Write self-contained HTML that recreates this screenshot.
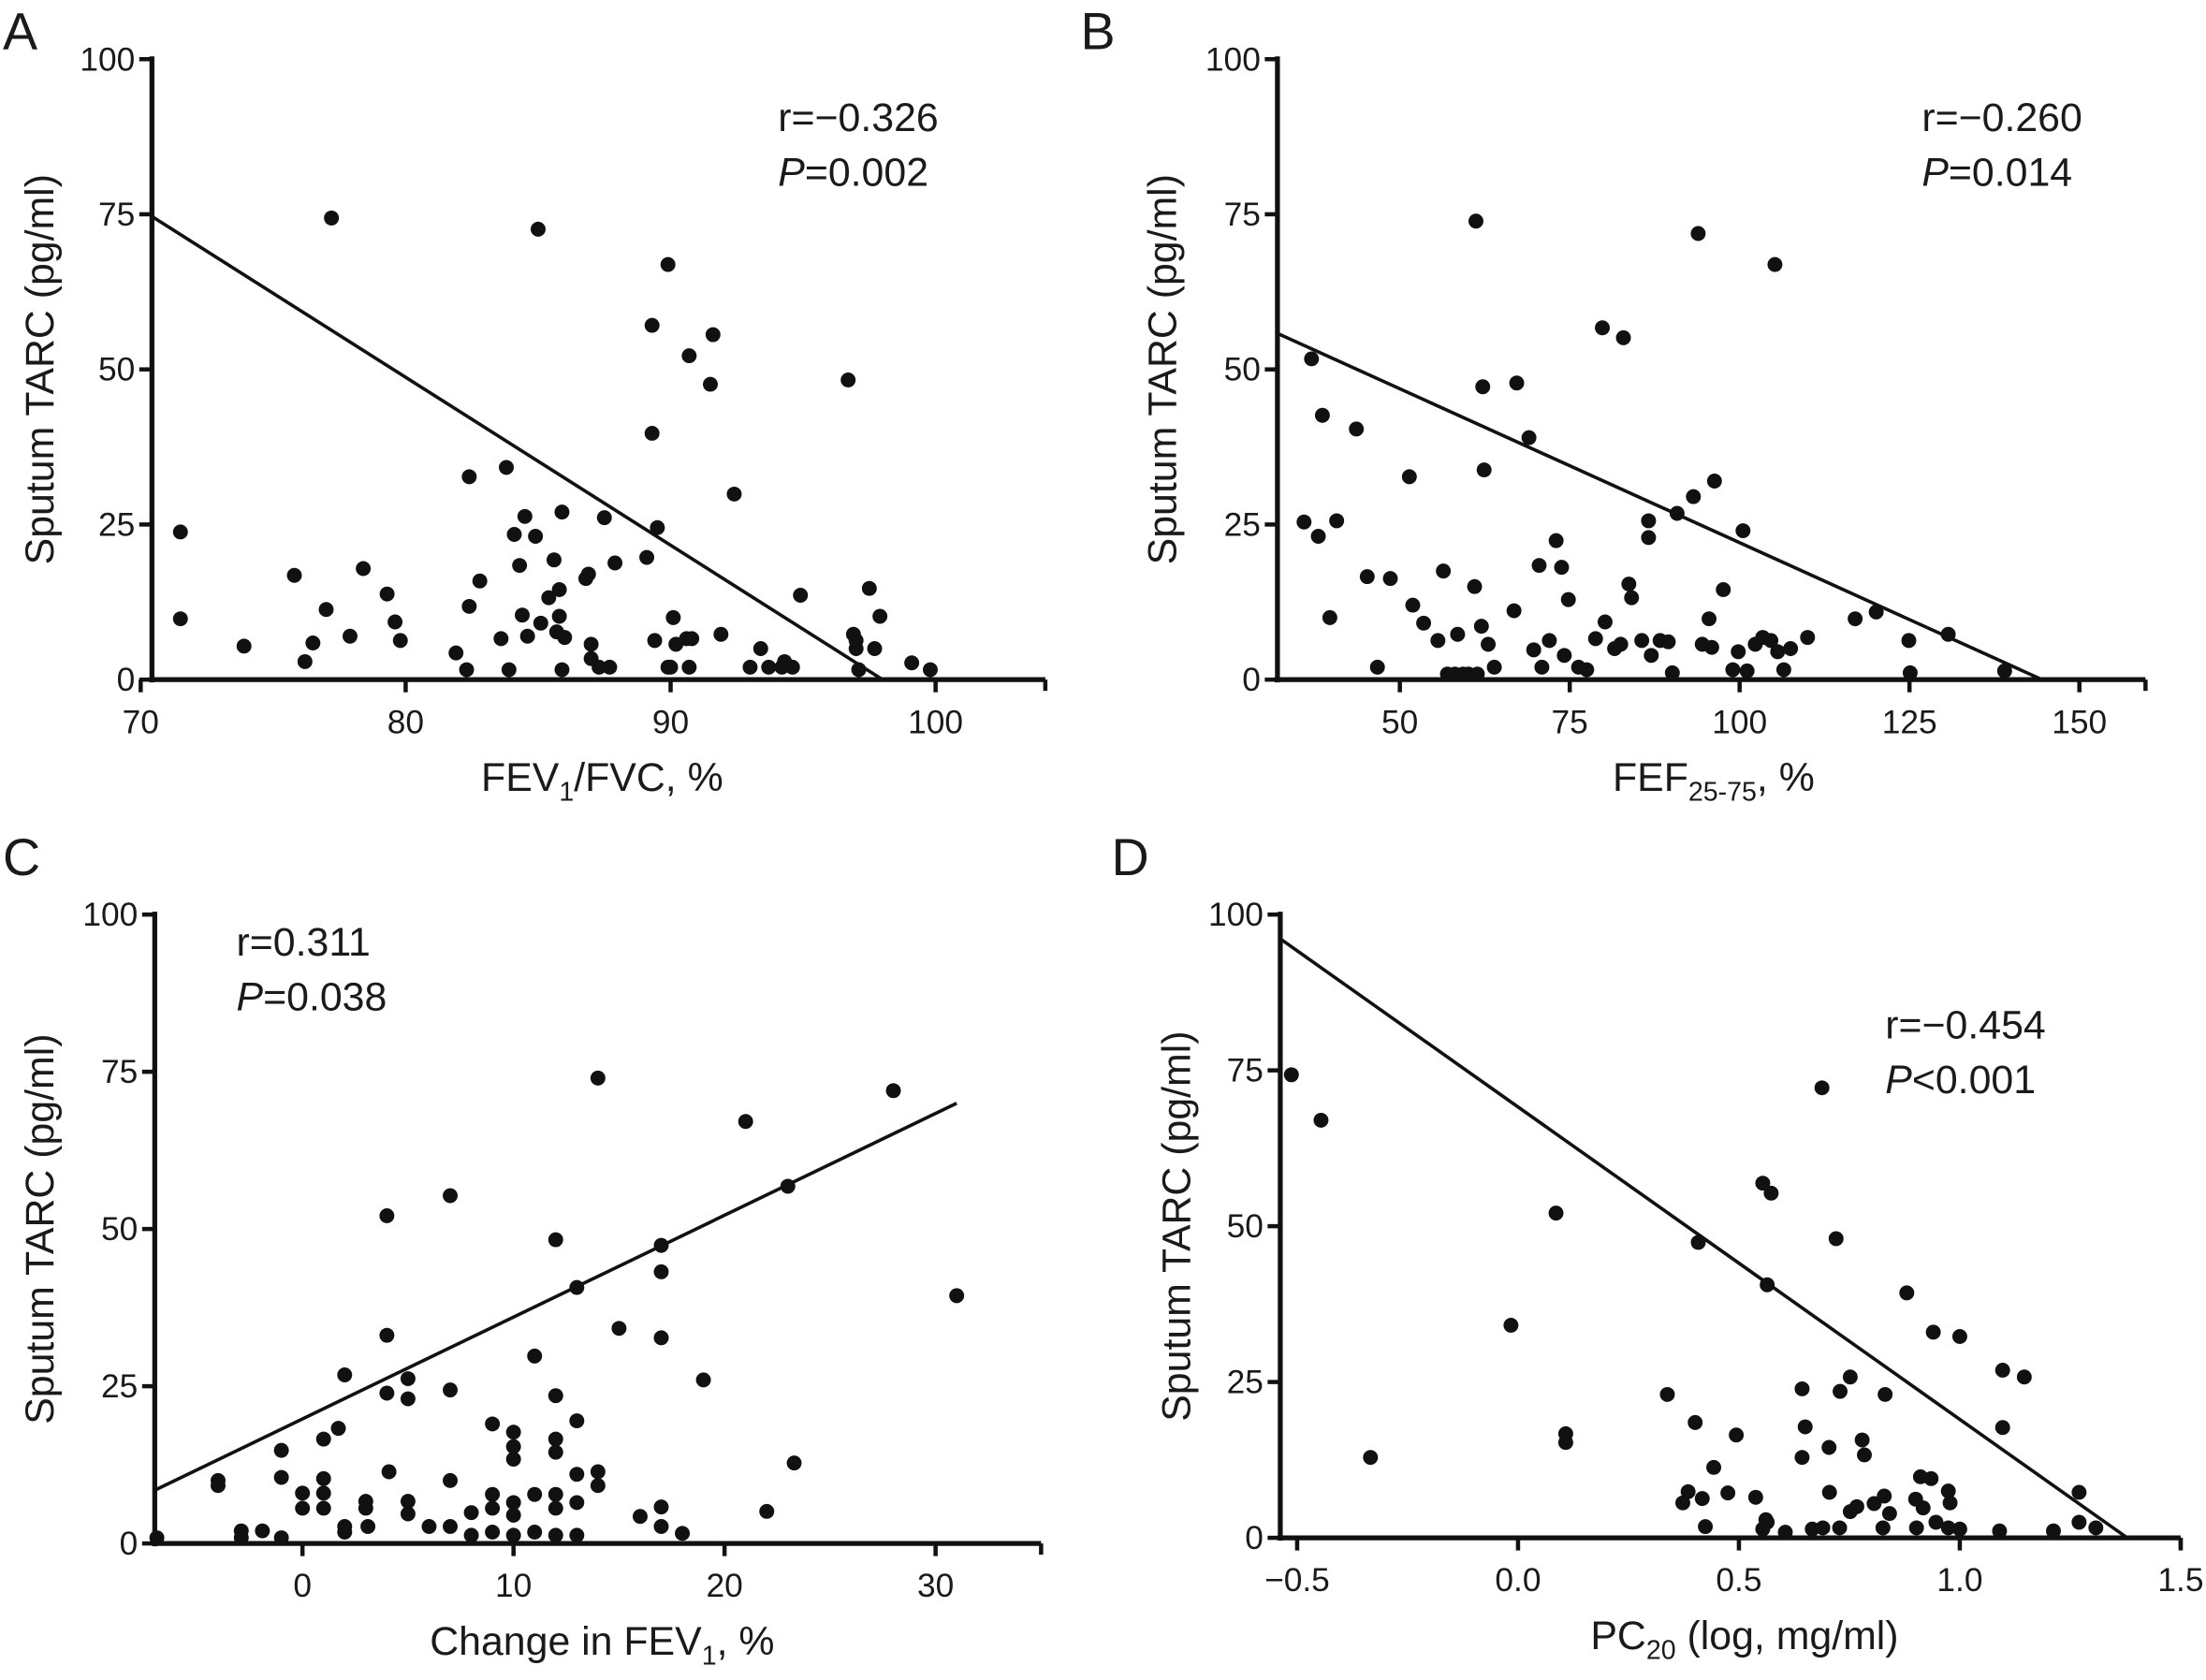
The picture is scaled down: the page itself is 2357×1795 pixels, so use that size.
<!DOCTYPE html>
<html><head><meta charset="utf-8"><style>
html,body{margin:0;padding:0;background:#fff}
svg{display:block}
text{font-family:"Liberation Sans",Arial,sans-serif;fill:#1a1a1a}
</style></head><body>
<svg id="fig" width="2357" height="1795" viewBox="0 0 1568 1194" xmlns="http://www.w3.org/2000/svg"></svg>
<script>
// Panel A data
const aX=[71.5,71.5,73.9,77.2,75.8,76.2,76.5,77,77.9,78.4,79.3,79.6,79.8,81.9,82.3,82.4,82.4,82.8,83.6,83.8,83.9,84.1,84.3,84.4,84.5,84.6,84.9,85,85.1,85.4,85.6,85.7,85.8,85.9,85.9,85.8,86,86.8,86.9,87,87,87.3,87.5,87.7,87.9,89.1,89.3,89.3,89.4,89.5,89.9,89.9,90,90.1,90.2,90.6,90.7,90.7,90.8,91.5,91.6,91.9,92.4,93,93.4,93.7,94.2,94.3,94.6,94.9,96.7,96.9,97,97,97.1,97.5,97.7,97.9,99.1,99.8];
const aY=[23.8,9.8,5.4,74.4,16.8,2.9,5.9,11.3,7,17.9,13.8,9.3,6.3,4.3,1.6,32.7,11.8,15.9,6.6,34.2,1.6,23.4,18.4,10.4,26.3,7,23.1,72.6,9.1,13.2,19.3,7.7,10.2,1.6,27,14.5,6.8,16.3,17,5.7,3.4,2,26.1,2,18.8,19.7,57.1,39.7,6.3,24.5,66.9,2,2,10,5.7,6.6,52.2,2,6.6,47.6,55.6,7.3,29.9,2,5,2,2,2.9,2,13.6,48.3,7.3,5,6.3,1.6,14.7,5,10.2,2.7,1.6];
const aFit=[[70,75.8],[98,0]];
// Panel B data
const bX=[35.9,37,38,38.6,39.7,40.7,43.6,45.2,46.7,48.6,51.4,51.9,53.5,55.6,56.4,57,58.1,58.5,59.3,60.1,61,61.2,61.4,62,62.2,62.4,63,63.9,66.8,67.2,69,69.7,70.5,70.9,72,73,73.8,74.2,74.8,76.3,77.5,78.8,79.8,80.2,81.6,82.5,82.9,83.7,84.1,85.6,86.6,86.6,87,88.3,89.5,90.1,90.8,93.2,93.9,94.5,95.5,95.9,96.3,97.6,99,99.8,100.5,101.1,102.3,103.4,104.6,105.2,105.6,106.5,107.5,110,117,120.1,124.9,125.1,130.7,139];
const bY=[25.4,51.7,23.1,42.6,10,25.6,40.4,16.6,2,16.3,32.7,12,9.1,6.3,17.5,0.9,0.9,7.3,0.9,0.9,15,73.9,0.9,8.6,47.2,33.8,5.7,2,11.1,47.8,39,4.8,18.4,2,6.3,22.4,18.1,3.9,12.9,2,1.6,6.6,56.7,9.3,5,5.7,55.1,15.4,13.2,6.3,25.6,22.9,3.9,6.3,6.1,1.1,26.8,29.5,71.9,5.7,9.8,5.2,32,14.5,1.6,4.5,24,1.4,5.7,6.8,6.3,66.9,4.5,1.6,5,6.8,9.8,10.9,6.3,1.1,7.3,1.4];
const bFit=[[32,55.8],[144.5,0]];
// Panel C data
const cX=[-6.9,-4,-4,-2.9,-2.9,-1.9,-1,-1,-1,0,0,1,1,1,1,1.7,2,2,2,3,3,3.1,4,4,4,4.1,5,5,5,5,6,7,7,7,7,8,8,9,9,9,9,10,10,10,10,10,10,11,11,11,12,12,12,12,12,12,12,13,13,13,13,13,14,14,14,15,16,17,17,17,17,17,18,19,21,22,23,23.3,28,31];
const cY=[0.9,10,9.2,2,0.9,2,14.8,10.5,0.9,8,5.6,10.3,8,5.6,16.6,18.3,26.8,2.7,1.8,6.7,5.6,2.7,52.1,33.1,23.9,11.4,26.2,23,6.7,4.7,2.7,55.3,24.4,10,2.7,4.9,1.3,19,7.8,5.6,1.8,17.7,15.4,13.4,6.5,4.5,1.3,29.8,7.8,1.8,48.3,23.5,16.6,14.5,7.8,5.6,1.3,40.7,19.5,11,6.5,1.3,74,11.4,9.2,34.2,4.3,47.4,43.2,32.7,5.8,2.7,1.6,26,67.1,5.1,56.8,12.8,72,39.4];
const cFit=[[-7.1,8.3],[31,70]];
// Panel D data
const dX=[-0.513,-0.446,-0.334,-0.016,0.086,0.108,0.108,0.338,0.373,0.385,0.401,0.408,0.417,0.424,0.443,0.475,0.494,0.538,0.554,0.561,0.564,0.564,0.573,0.605,0.643,0.643,0.65,0.554,0.666,0.688,0.72,0.88,0.94,1.0,1.097,1.146,1.097,0.752,0.729,0.831,0.704,0.779,0.784,0.705,0.752,0.767,0.806,0.829,0.841,0.911,0.935,0.9,0.917,0.974,0.978,0.946,0.974,1.0,0.728,0.69,0.826,0.902,1.09,1.212,1.27,1.27,1.308];
const dY=[74.3,67,12.9,34.1,52.1,16.7,15.3,23,5.6,7.4,18.5,47.4,6.3,1.8,11.3,7.2,16.5,6.5,1.4,2.9,40.6,2.5,55.3,0.9,12.9,23.9,17.8,56.9,1.4,72.2,48,39.3,33,32.3,26.9,25.8,17.7,25.8,23.5,23,14.5,15.7,13.3,7.3,4.2,5,5.5,6.7,3.9,9.8,9.5,6.2,4.8,7.5,5.6,2.5,1.6,1.4,1.6,1.6,1.6,1.6,1.1,1.1,7.3,2.5,1.6];
const dFit=[[-0.54,96.2],[1.379,0]];

const yTicks=[0,25,50,75,100];
const aTicks=[70,80,90,100], bTicks=[50,75,100,125,150], cTicks=[0,10,20,30], dTicks=[-0.5,0.0,0.5,1.0,1.5];
const dTickLabels=["\u22120.5","0.0","0.5","1.0","1.5"];

const NS="http://www.w3.org/2000/svg";
const svg=document.getElementById('fig');
function mk(tag,attrs,parent){const e=document.createElementNS(NS,tag);for(const k in attrs)e.setAttribute(k,attrs[k]);(parent||svg).appendChild(e);return e;}

function panel(cfg){
  const g=mk('g',{});
  
  
  const sx=v=>cfg.x0px+(v-cfg.x0)*(cfg.x1px-cfg.x0px)/(cfg.x1-cfg.x0);
  const sy=v=>cfg.y0px-(v)*(cfg.y0px-cfg.y100px)/100;
  let X1=sx(cfg.fit[0][0]),Y1=sy(cfg.fit[0][1]),X2=sx(cfg.fit[1][0]),Y2=sy(cfg.fit[1][1]);
  if(X1<cfg.axL){const t=(cfg.axL-X1)/(X2-X1);Y1=Y1+t*(Y2-Y1);X1=cfg.axL;}
  const fl=mk('line',{x1:X1,y1:Y1,x2:X2,y2:Y2,stroke:'#111','stroke-width':2.4},g);
  
  
  for(let i=0;i<cfg.xs.length;i++){
    const c=mk('circle',{cx:sx(cfg.xs[i]),cy:sy(cfg.ys[i]),r:5.3,fill:'#111'},g);
    
    
  }
  const ya=mk('line',{x1:cfg.axL,y1:sy(100)-2,x2:cfg.axL,y2:cfg.y0px+2,stroke:'#111','stroke-width':3.5},g);
  
  
  const xa=mk('line',{x1:cfg.axL-2,y1:cfg.y0px,x2:cfg.axR,y2:cfg.y0px,stroke:'#111','stroke-width':3.5},g);
  
  
  mk('line',{x1:cfg.axR,y1:cfg.y0px,x2:cfg.axR,y2:cfg.y0px+8,stroke:'#111','stroke-width':3},g);
  yTicks.forEach(t=>{
    mk('line',{x1:cfg.axL-9,y1:sy(t),x2:cfg.axL,y2:sy(t),stroke:'#111','stroke-width':3},g);
    const tx=mk('text',{x:cfg.axL-12,y:sy(t)+8,'text-anchor':'end','font-size':23.5},g);
    tx.textContent=t;
    
    
  });
  cfg.ticks.forEach((t,i)=>{
    mk('line',{x1:sx(t),y1:cfg.y0px,x2:sx(t),y2:cfg.y0px+9,stroke:'#111','stroke-width':3},g);
    const tx=mk('text',{x:sx(t),y:cfg.y0px+38,'text-anchor':'middle','font-size':23.5},g);
    tx.textContent=cfg.tickLabels?cfg.tickLabels[i]:t;
    
    
  });
  const yt=mk('text',{x:0,y:0,'text-anchor':'middle','font-size':28.5,transform:`translate(${cfg.ytX},${(cfg.y0px+cfg.y100px)/2}) rotate(-90)`},g);
  yt.textContent='Sputum TARC (pg/ml)';
  
  
  const xt=mk('text',{x:cfg.xtX,y:cfg.y0px+79,'text-anchor':'middle','font-size':28.5},g);
  xt.innerHTML=cfg.xtitle;
  
  
  const r=mk('text',{x:cfg.annX,y:cfg.annY,'font-size':28.5},g);
  r.textContent=cfg.r;
  
  
  const p=mk('text',{x:cfg.annX,y:cfg.annY+39,'font-size':28.5},g);
  p.innerHTML='<tspan font-style="italic">P</tspan>'+cfg.p;
  
  
  const L=mk('text',{x:cfg.lx,y:cfg.ly,'font-size':37},g);
  L.textContent=cfg.id;
  
  
}

panel({id:'A',xs:aX,ys:aY,fit:aFit,x0:70,x1:100,x0px:100,x1px:665,y0px:483,y100px:42,axL:108,axR:743,ticks:aTicks,
  ytX:38,xtX:428,xtitle:'FEV<tspan font-size="19" dy="7">1</tspan><tspan dy="-7">/FVC, %</tspan>',annX:553,annY:93,r:'r=\u22120.326',p:'=0.002',lx:2,ly:35});
panel({id:'B',xs:bX,ys:bY,fit:bFit,x0:50,x1:150,x0px:995,x1px:1478,y0px:483,y100px:42,axL:908,axR:1525,ticks:bTicks,
  ytX:836,xtX:1218,xtitle:'FEF<tspan font-size="19" dy="7">25-75</tspan><tspan dy="-7">, %</tspan>',annX:1366,annY:93,r:'r=\u22120.260',p:'=0.014',lx:768,ly:35});
panel({id:'C',xs:cX,ys:cY,fit:cFit,x0:0,x1:30,x0px:215,x1px:665,y0px:1097,y100px:650,axL:110,axR:740,ticks:cTicks,
  ytX:38,xtX:428,xtitle:'Change in FEV<tspan font-size="19" dy="7">1</tspan><tspan dy="-7">, %</tspan>',annX:168,annY:679,r:'r=0.311',p:'=0.038',lx:2,ly:622});
panel({id:'D',xs:dX,ys:dY,fit:dFit,x0:-0.5,x1:1.5,x0px:922,x1px:1550,y0px:1093,y100px:650,axL:910,axR:1550,ticks:dTicks,tickLabels:dTickLabels,
  ytX:846,xtX:1240,xtitle:'PC<tspan font-size="19" dy="7">20</tspan><tspan dy="-7"> (log, mg/ml)</tspan>',annX:1340,annY:738,r:'r=\u22120.454',p:'&lt;0.001',lx:790,ly:622});
</script>
</body></html>
